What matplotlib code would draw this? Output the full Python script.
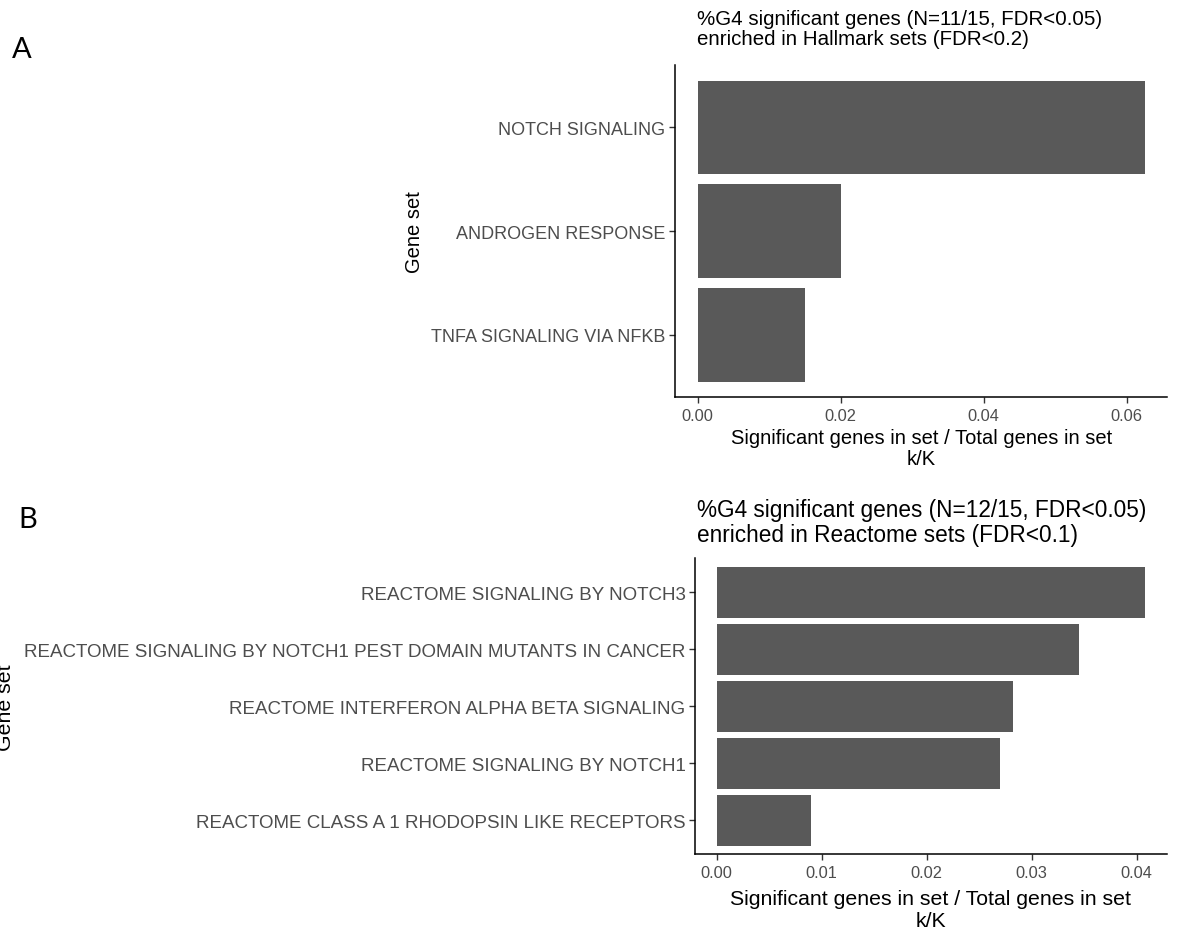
import numpy as np
import matplotlib
matplotlib.use("Agg")
import matplotlib.pyplot as plt

plt.rcParams['font.family'] = ['Liberation Sans', 'DejaVu Sans']

# hallmark enrichment (panel A), top to bottom
hallmark_sets = ["NOTCH SIGNALING", "ANDROGEN RESPONSE", "TNFA SIGNALING VIA NFKB"]
hallmark_ratio = [0.0625, 0.020, 0.015]

# reactome enrichment (panel B), top to bottom
reactome_sets = ["REACTOME SIGNALING BY NOTCH3",
                 "REACTOME SIGNALING BY NOTCH1 PEST DOMAIN MUTANTS IN CANCER",
                 "REACTOME INTERFERON ALPHA BETA SIGNALING",
                 "REACTOME SIGNALING BY NOTCH1",
                 "REACTOME CLASS A 1 RHODOPSIN LIKE RECEPTORS"]
reactome_ratio = [0.0408, 0.0345, 0.0282, 0.0270, 0.009]

hallmark_ticks = [0.00, 0.02, 0.04, 0.06]
reactome_ticks = [0.00, 0.01, 0.02, 0.03, 0.04]

W, H = 1177, 945
fig = plt.figure(figsize=(W / 100, H / 100), dpi=100)


def px_axes(left, top, right, bottom):
    return fig.add_axes([left / W, 1 - bottom / H, (right - left) / W, (bottom - top) / H])


def enrich_panel(ax, names, vals, ticks, ylab_x, xlab_y, ysize, lsize, xspace):
    n = len(names)
    y = np.arange(n)
    ax.barh(y, vals, height=0.9, color="#595959", edgecolor="none")
    ax.set_ylim(n - 0.4, -0.6)
    top = max(vals)
    ax.set_xlim(-0.05 * top, 1.05 * top)
    ax.set_yticks(y)
    ax.set_yticklabels(names)
    ax.set_xticks(ticks)
    ax.set_xticklabels(["%.2f" % t for t in ticks])
    for s in ["top", "right"]:
        ax.spines[s].set_visible(False)
    for s in ["left", "bottom"]:
        ax.spines[s].set_linewidth(1.1)
        ax.spines[s].set_color("black")
    ax.tick_params(axis="y", length=4, width=1, color="#333333", labelcolor="#4D4D4D",
                   labelsize=ysize, pad=3)
    ax.tick_params(axis="x", length=4, width=1, color="#333333", labelcolor="#4D4D4D",
                   labelsize=11.8, pad=3.5)
    ax.set_xlabel("Significant genes in set / Total genes in set\nk/K", fontsize=lsize,
                  linespacing=xspace)
    ax.xaxis.set_label_coords(0.5, xlab_y)
    ax.set_ylabel("Gene set", fontsize=lsize)
    ax.yaxis.set_label_coords(ylab_x, 0.5)


axA = px_axes(675.3, 66, 1167, 398.3)
enrich_panel(axA, hallmark_sets, hallmark_ratio, hallmark_ticks,
             (424 - 675.3) / 491.7, (398.3 - 429) / 332.3, 13, 14.5, 1.15)

axB = px_axes(695.3, 559.3, 1166.5, 855.3)
enrich_panel(axB, reactome_sets, reactome_ratio, reactome_ticks,
             (15 - 695.3) / 471.2, (855.3 - 890) / 296, 13.5, 15.3, 1.2)

fig.text(697 / W, 1 - 10 / H,
         "%G4 significant genes (N=11/15, FDR<0.05)\nenriched in Hallmark sets (FDR<0.2)",
         fontsize=14.75, va="top", ha="left", linespacing=1.07)
fig.text(697 / W, 1 - 499 / H,
         "%G4 significant genes (N=12/15, FDR<0.05)\nenriched in Reactome sets (FDR<0.1)",
         fontsize=16.3, va="top", ha="left", linespacing=1.1)

fig.text(12 / W, 1 - 58 / H, "A", fontsize=21, family="Lato", va="baseline")
fig.text(18 / W, 1 - 528 / H, "B", fontsize=21, family="Lato", va="baseline")

fig.savefig("out.png", dpi=100)
